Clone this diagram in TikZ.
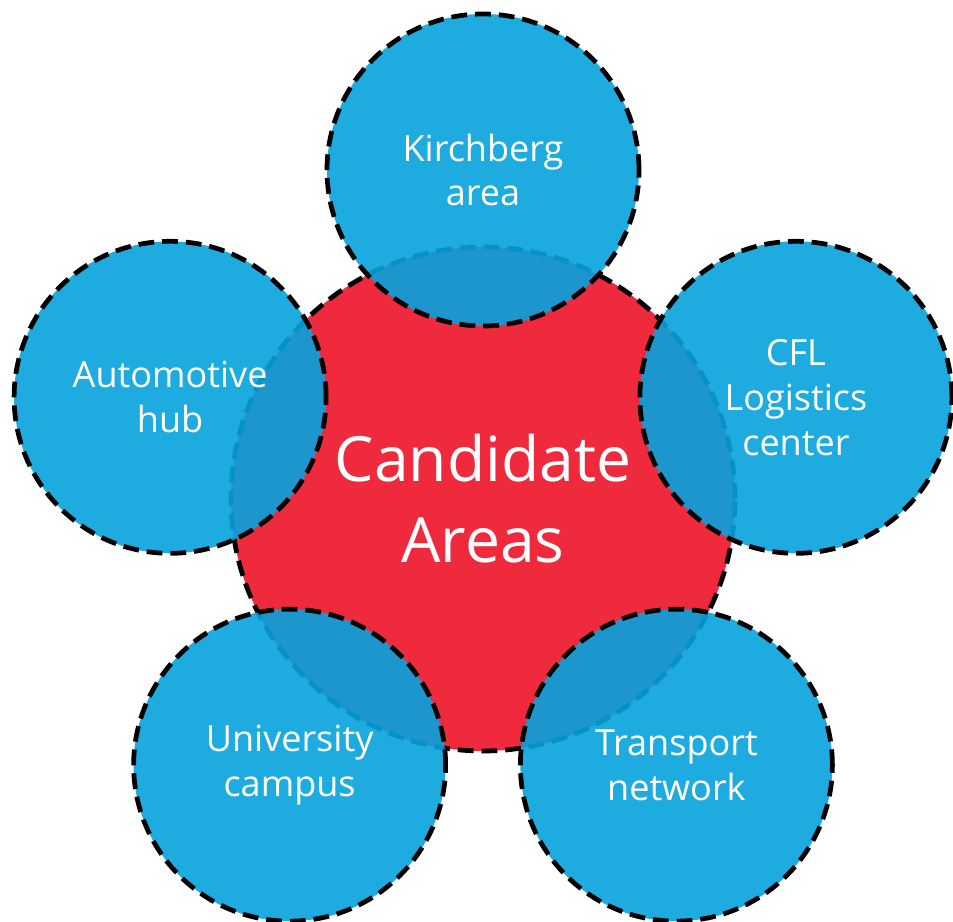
\documentclass[tikz,border=0pt]{standalone}
\usepackage{fontspec}
\newfontfamily\areafont{Open Sans}
\usetikzlibrary{calc}
\definecolor{areablue}{HTML}{06A2DD}
\definecolor{areared}{HTML}{EE2A3C}
\tikzset{
	% ------- custom
	area outline/.style={
		draw=black,
		line width=2.7pt,
		dash pattern=on 9pt off 4.5pt,
	},
	candidate/.style={
		circle,
		area outline,
		fill=areared,
		minimum size=10.08cm,
		inner sep=0pt,
		text=white,
		align=center,
		font=\areafont\fontsize{35.5}{46}\selectfont,
	},
	satellite/.style={
		circle,
		area outline,
		fill=areablue,
		fill opacity=0.9,
		text opacity=1,
		minimum size=6.24cm,
		inner sep=0pt,
		text=white,
		align=center,
		font=\areafont\fontsize{20.5}{25.5}\selectfont,
	},
}
\begin{document}
\begin{tikzpicture}

% frame %{{{1

	\useasboundingbox (0,0) rectangle (19.06,18.42);

% coordinates %{{{1

	\coordinate (O) at (9.66,8.44);
	\def\dist{6.58}

% central area %{{{1

	\node[candidate] (cand) at (O) {Candidate\\Areas};

% surrounding areas %{{{1

	\node[satellite] (kirch) at ($(O)+(90:\dist)$) {Kirchberg\\area};
	\node[satellite] (auto) at ($(O)+(162:\dist)$) {Automotive\\hub};
	\node[satellite] (univ) at ($(O)+(234:\dist)$) {University\\campus};
	\node[satellite] (trans) at ($(O)+(306:\dist)$) {Transport\\network};
	\node[satellite] (cfl) at ($(O)+(18:\dist)$) {CFL\\Logistics\\center};

% closing %{{{1

\end{tikzpicture}
\end{document}
